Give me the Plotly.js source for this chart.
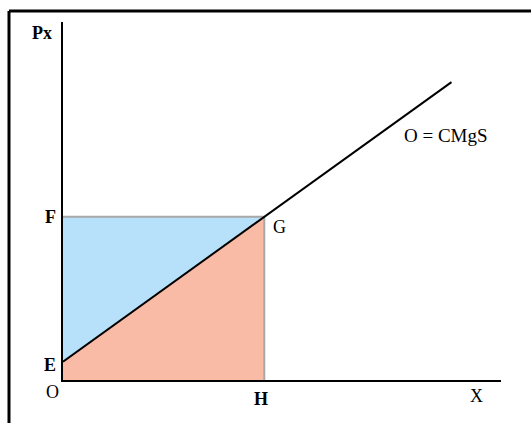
<!DOCTYPE html>
<html>
<head>
<meta charset="utf-8">
<script src="https://cdn.plot.ly/plotly-3.0.1.min.js"></script>
<style>html,body{margin:0;padding:0;background:#fff;}#chart{width:531px;height:423px;}</style>
</head>
<body>
<div id="chart"></div>
<script>
// Values (arbitrary economic units)
const priceE = 0.9;      // intercept E on the price axis
const priceF = 8;        // price level F
const quantityH = 5;     // quantity H
const supplyX = [0, 9.65];
const supplyY = [0.9, 14.6];
const surplusX = [0, 0, 5];          // blue triangle E-F-G
const surplusY = [0.9, 8, 8];
const costX = [0, 0, 5, 5];          // salmon area O-E-G-H
const costY = [0, 0.9, 8, 0];
const guideX = [0, 5, 5];
const guideY = [8, 8, 0];
const labels = {px: "Px", f: "F", e: "E", o: "O", h: "H", x: "X", g: "G", curve: "O = CMgS"};

const serif = "Liberation Serif, Times New Roman, serif";
const XR = [0, 10.88], YR = [0, 17.55];

const traces = [
  {x: costX, y: costY, fill: "toself", fillcolor: "#f9bba6", mode: "none", type: "scatter", hoverinfo: "skip"},
  {x: surplusX, y: surplusY, fill: "toself", fillcolor: "#b7e1fa", mode: "none", type: "scatter", hoverinfo: "skip"},
  {x: guideX, y: guideY, mode: "lines", line: {color: "#a8a8a8", width: 2}, type: "scatter", hoverinfo: "skip"},
  {x: supplyX, y: supplyY, mode: "lines", line: {color: "#000", width: 2}, type: "scatter", hoverinfo: "skip"}
];

// labels placed in paper coordinates (converted from data units) so they can sit outside the axes
function ann(text, x, y, bold, size) {
  return {text: bold ? "<b>" + text + "</b>" : text,
    x: (x - XR[0]) / (XR[1] - XR[0]), y: (y - YR[0]) / (YR[1] - YR[0]), xref: "paper", yref: "paper",
    showarrow: false, font: {family: serif, size: size || 18, color: "#000"}, xanchor: "center", yanchor: "middle"};
}

const layout = {
  width: 531, height: 423,
  margin: {l: 63, r: 30, t: 22, b: 43},
  paper_bgcolor: "#fff", plot_bgcolor: "#fff",
  showlegend: false,
  xaxis: {range: XR, showgrid: false, zeroline: false, showticklabels: false, ticks: "",
          showline: true, linecolor: "#000", linewidth: 2, fixedrange: true},
  yaxis: {range: YR, showgrid: false, zeroline: false, showticklabels: false, ticks: "",
          showline: true, linecolor: "#000", linewidth: 2, fixedrange: true},
  annotations: [
    ann(labels.px, -0.52, 17.0, true),
    ann(labels.f, -0.32, priceF, true),
    ann(labels.e, -0.32, priceE - 0.16, true),
    ann(labels.o, -0.27, -0.59, false),
    ann(labels.h, quantityH - 0.08, -0.93, true),
    ann(labels.x, 10.28, -0.78, false),
    ann(labels.g, quantityH + 0.37, priceF - 0.5, false),
    ann(labels.curve, 9.51, 12.0, false, 19)
  ],
  shapes: [
    {type: "line", xref: "paper", yref: "paper", x0: -0.1233, x1: 1.08, y0: 1.0307, y1: 1.0307, line: {color: "#000", width: 3}},
    {type: "line", xref: "paper", yref: "paper", x0: -0.1233, x1: -0.1233, y0: 1.0307, y1: -0.13, line: {color: "#000", width: 3}}
  ]
};

Plotly.newPlot("chart", traces, layout, {displayModeBar: false, staticPlot: true});
</script>
</body>
</html>
